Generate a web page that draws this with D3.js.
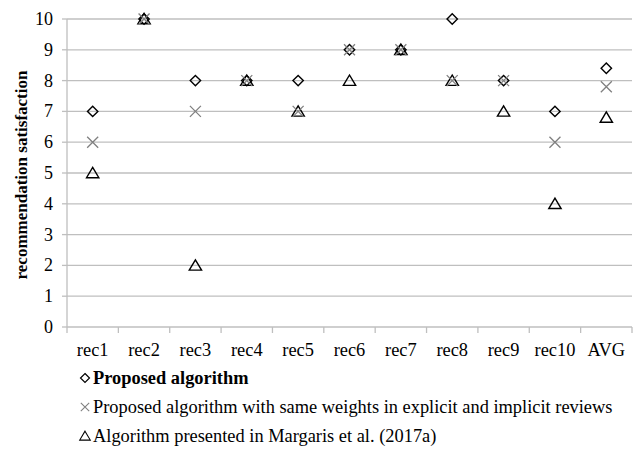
<!DOCTYPE html>
<meta charset="utf-8">
<head>
<script src="https://d3js.org/d3.v7.min.js"></script>
<style>
  body { margin: 0; background: #fff; }
  svg text { font-family: "Liberation Serif", "Times New Roman", "DejaVu Serif", serif; }
  .grid line { stroke: #bfbfbf; stroke-width: 1.3px; }
</style>
</head>
<body>
<div id="chart"></div>
<script>
// data
var categories = ["rec1","rec2","rec3","rec4","rec5","rec6","rec7","rec8","rec9","rec10","AVG"];
var proposed = [7,10,8,8,8,9,9,10,8,7,8.4];
var sameWeights = [6,10,7,8,7,9,9,8,8,6,7.8];
var margaris = [5,10,2,8,7,8,9,8,7,4,6.8];
var yTicks = [0,1,2,3,4,5,6,7,8,9,10];
var legendLabels = ["Proposed algorithm",
  "Proposed algorithm with same weights in explicit and implicit reviews",
  "Algorithm presented in Margaris et al. (2017a)"];

var W = 635, H = 449;
var margin = {top: 19, right: 3, bottom: 122, left: 67};
var width = W - margin.left - margin.right,
    height = H - margin.top - margin.bottom;

var svg = d3.select("#chart").append("svg")
    .attr("width", W).attr("height", H);
var g = svg.append("g")
    .attr("transform", "translate(" + margin.left + "," + margin.top + ")");

var x = d3.scaleBand().domain(categories).range([0, width]);
var y = d3.scaleLinear().domain([0, 10]).range([height, 0]);

// horizontal grid
g.append("g").attr("class", "grid")
  .selectAll("line").data(yTicks.slice(1)).enter().append("line")
  .attr("x1", 0).attr("x2", width)
  .attr("y1", d => y(d)).attr("y2", d => y(d));

// y axis
g.append("line").attr("x1", 0).attr("x2", 0).attr("y1", 0).attr("y2", height)
  .attr("stroke", "#bfbfbf").attr("stroke-width", 1.3);
g.selectAll(".ytick").data(yTicks).enter().append("line")
  .attr("x1", -5).attr("x2", 0).attr("y1", d => y(d)).attr("y2", d => y(d))
  .attr("stroke", "#bfbfbf").attr("stroke-width", 1.3);
g.selectAll(".ylab").data(yTicks).enter().append("text")
  .attr("x", -14).attr("y", d => y(d)).attr("dy", "0.33em")
  .attr("text-anchor", "end").style("font-size", "18px")
  .text(d => d);

// x axis
g.append("line").attr("x1", 0).attr("x2", width).attr("y1", height).attr("y2", height)
  .attr("stroke", "#bfbfbf").attr("stroke-width", 1.3);
var bounds = categories.map(c => x(c)).concat([width]);
g.selectAll(".xtick").data(bounds).enter().append("line")
  .attr("x1", d => d).attr("x2", d => d).attr("y1", height).attr("y2", height + 6)
  .attr("stroke", "#bfbfbf").attr("stroke-width", 1.3);
g.selectAll(".xlab").data(categories).enter().append("text")
  .attr("x", d => x(d) + x.bandwidth() / 2).attr("y", height + 29)
  .attr("text-anchor", "middle").style("font-size", "18.4px")
  .text(d => d);

// y title
svg.append("text")
  .attr("transform", "translate(27," + (margin.top + height / 2 + 2) + ") rotate(-90)")
  .attr("text-anchor", "middle").style("font-size", "17px").style("font-weight", "bold")
  .text("recommendation satisfaction");

// marker shapes
function diamond(s) { return "M0," + (-s) + "L" + s + ",0L0," + s + "L" + (-s) + ",0Z"; }
function cross(s) { return "M" + (-s) + "," + (-s) + "L" + s + "," + s + "M" + (-s) + "," + s + "L" + s + "," + (-s); }
function triangle(s) { return "M0," + (-s) + "L" + (s * 1.1) + "," + (s * 0.85) + "L" + (-s * 1.1) + "," + (s * 0.85) + "Z"; }

var series = [
  {values: margaris, path: triangle(5.6), stroke: "#000", w: 1.4},
  {values: proposed, path: diamond(5.2), stroke: "#000", w: 1.4},
  {values: sameWeights, path: cross(5.5), stroke: "#808080", w: 1.3}
];

series.forEach(function(s) {
  g.selectAll(null).data(s.values).enter().append("path")
    .attr("transform", (d, i) => "translate(" + (x(categories[i]) + x.bandwidth() / 2) + "," + y(d) + ")")
    .attr("d", s.path).attr("fill", "none")
    .attr("stroke", s.stroke).attr("stroke-width", s.w);
});

// legend
var legendY = [378, 407, 436];
var legendShapes = [
  {path: diamond(4.5), stroke: "#000", w: 1.2},
  {path: cross(4.2), stroke: "#808080", w: 1.1},
  {path: triangle(4.8), stroke: "#000", w: 1.1}
];
legendLabels.forEach(function(lab, i) {
  svg.append("path")
    .attr("transform", "translate(85," + legendY[i] + ")")
    .attr("d", legendShapes[i].path).attr("fill", "none")
    .attr("stroke", legendShapes[i].stroke).attr("stroke-width", legendShapes[i].w);
  svg.append("text")
    .attr("x", 93).attr("y", legendY[i]).attr("dy", "0.33em")
    .style("font-size", "18.4px")
    .style("font-weight", i === 0 ? "bold" : "normal")
    .text(lab);
});
</script>
</body>
</html>
